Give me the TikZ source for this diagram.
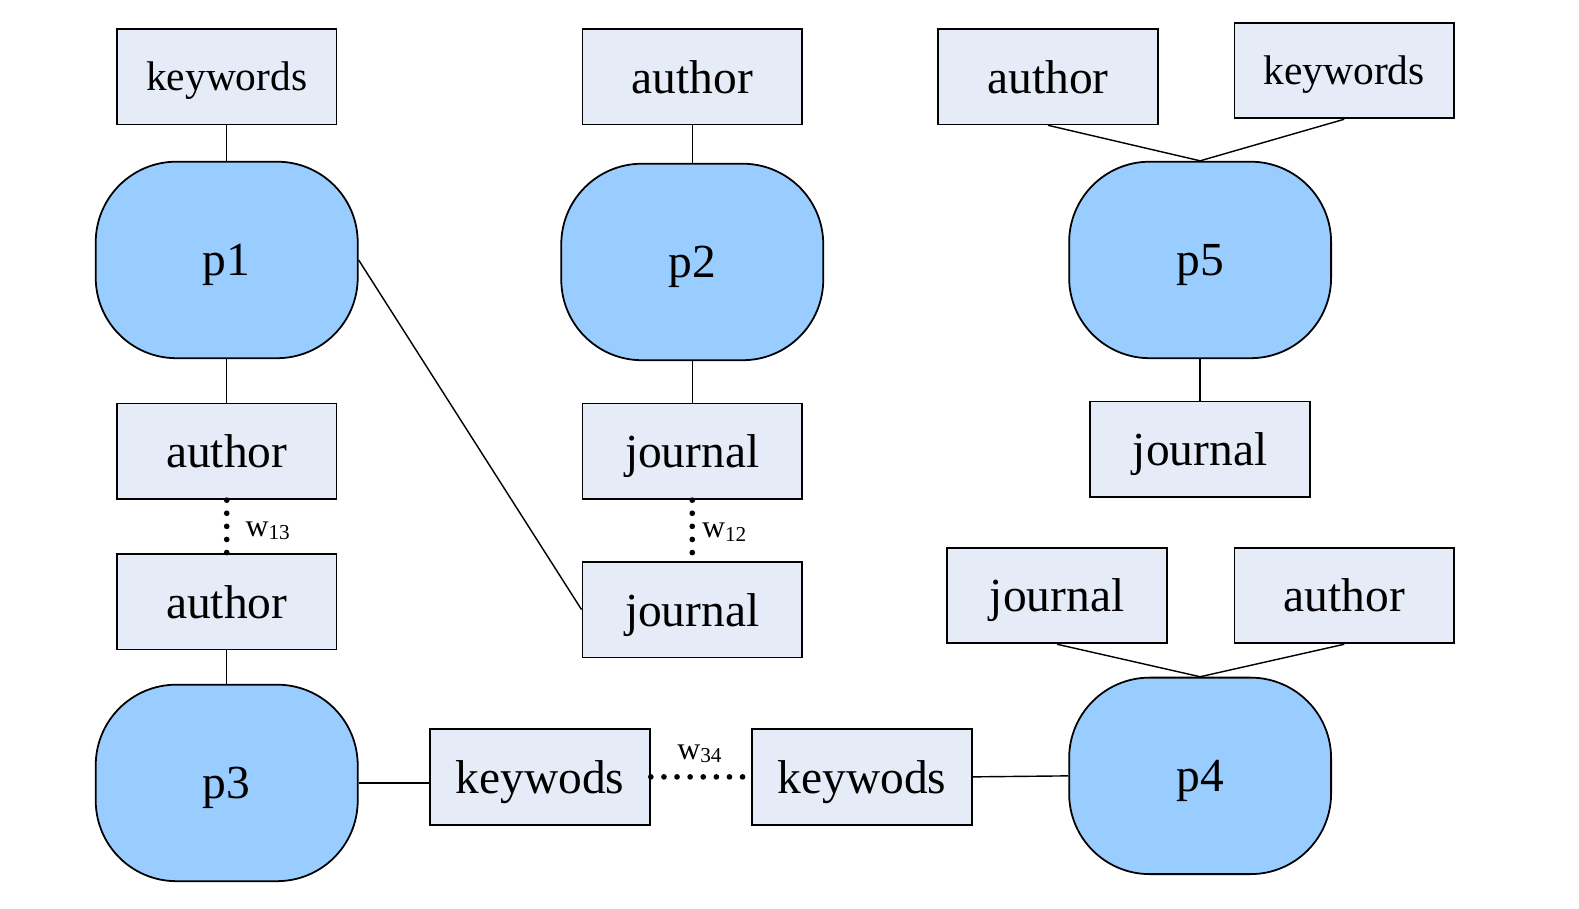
\documentclass[tikz,border=0pt]{standalone}
\usepackage{fontspec}
\setmainfont{Liberation Serif}
\definecolor{boxfill}{HTML}{E6ECF7}
\definecolor{paperfill}{HTML}{99CCFF}
\tikzset{
	attr/.style={draw, line width=0.5pt, fill=boxfill, minimum width=2.18cm, minimum height=0.95cm, inner sep=0pt, text depth=0pt, font=\fontsize{13.4}{16}\selectfont},
	smallattr/.style={attr, font=\fontsize{11.7}{14}\selectfont},
	paper/.style={draw, line width=0.5pt, fill=paperfill, rounded corners=0.8cm, minimum width=2.6cm, minimum height=1.95cm, inner sep=0pt, text depth=0pt, font=\fontsize{13.4}{16}\selectfont},
	link/.style={line width=0.4pt},
	weight/.style={line width=1.6pt, line cap=round, dash pattern=on 0pt off 3.7pt},
	wlabel/.style={inner sep=0pt, font=\fontsize{9}{11}\selectfont}
}
\begin{document}
\begin{tikzpicture}
	\useasboundingbox (0, 0.07) rectangle (15.67, 9.09);
	\node[smallattr] at (2.25, 8.33) (kw1) {keywords};
	\node[paper] at (2.25, 6.51) (p1) {p1};
	\draw[link] (kw1.south) -- (p1.north);
	\node[attr] at (2.25, 4.61) (au1) {author};
	\draw[link] (p1.south) -- (au1.north);
	\node[attr] at (2.25, 3.12) (au3) {author};
	\draw[weight] (au1.south) -- (au3.north);
	\node[wlabel, anchor=west] at (2.43, 3.82) (w13) {w\textsubscript{13}};
	\node[paper] at (2.25, 1.32) (p3) {p3};
	\draw[link] (au3.south) -- (p3.north);
	\node[attr] at (6.87, 8.33) (au2) {author};
	\node[paper] at (6.87, 6.49) (p2) {p2};
	\draw[link] (au2.south) -- (p2.north);
	\node[attr] at (6.87, 4.61) (jo2) {journal};
	\draw[link] (p2.south) -- (jo2.north);
	\node[attr] at (6.87, 3.04) (jo1) {journal};
	\draw[weight] (jo2.south) -- (jo1.north);
	\node[wlabel, anchor=west] at (6.96, 3.81) (w12) {w\textsubscript{12}};
	\draw[link] (p1.east) -- (jo1.west);
	\node[attr] at (10.40, 8.33) (au5) {author};
	\node[smallattr] at (13.34, 8.39) (kw5) {keywords};
	\node[paper] at (11.91, 6.51) (p5) {p5};
	\draw[link] (au5.south) -- (p5.north);
	\draw[link] (kw5.south) -- (p5.north);
	\node[attr] at (11.91, 4.63) (jo5) {journal};
	\draw[link] (p5.south) -- (jo5.north);
	\node[attr] at (10.49, 3.18) (jo4) {journal};
	\node[attr] at (13.34, 3.18) (au4) {author};
	\node[paper] at (11.91, 1.39) (p4) {p4};
	\draw[link] (jo4.south) -- (p4.north);
	\draw[link] (au4.south) -- (p4.north);
	\node[attr] at (5.36, 1.38) (kw3) {keywods};
	\draw[link] (p3.east) -- (kw3.west |- p3.east);
	\node[attr] at (8.555, 1.38) (kw4) {keywods};
	\draw[weight] (kw3.east) -- (kw4.west);
	\node[wlabel] at (6.95, 1.61) (w34) {w\textsubscript{34}};
	\draw[link] (kw4.east) -- (p4.west);
\end{tikzpicture}
\end{document}
